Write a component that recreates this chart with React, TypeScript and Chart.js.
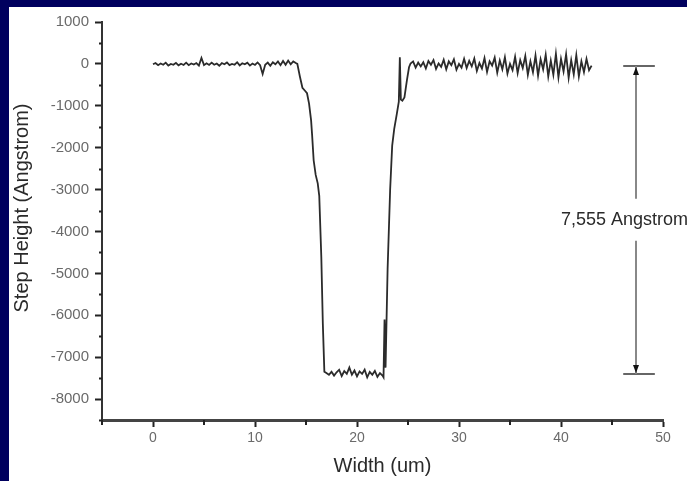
import { useEffect, useRef } from "react";
import { Chart, registerables } from "chart.js";

Chart.register(...registerables);

// Measured profile: x position (um) and step height (Angstrom)
const widthUm = [
  0, 0.25, 0.5, 0.75, 1, 1.25, 1.5, 1.75, 2, 2.25, 2.5, 2.75, 3, 3.25, 3.5, 3.75,
  4, 4.25, 4.5, 4.75, 5, 5.25, 5.5, 5.75, 6, 6.25, 6.5, 6.75, 7, 7.25, 7.5, 7.75,
  8, 8.25, 8.5, 8.75, 9, 9.25, 9.5, 9.75, 10, 10.25, 10.5, 10.75, 11, 11.25, 11.5, 11.75,
  12, 12.25, 12.5, 12.75, 13, 13.25, 13.5, 13.75, 14,
  14.15, 14.4, 14.65, 14.9, 15.1, 15.3, 15.5, 15.6, 15.75, 15.95, 16.15, 16.3, 16.5, 16.65, 16.8,
  17, 17.25, 17.5, 17.75, 18, 18.25, 18.5, 18.75, 19, 19.25, 19.5, 19.75, 20, 20.25, 20.5, 20.75,
  21, 21.25, 21.5, 21.75, 22, 22.25, 22.5,
  22.6, 22.7, 22.8, 23.0, 23.25, 23.45, 23.65, 23.9, 24.1, 24.2, 24.3, 24.45, 24.65, 24.9, 25.1, 25.25,
  25.5, 25.75, 26, 26.25, 26.5, 26.75, 27, 27.25, 27.5, 27.75, 28, 28.25, 28.5, 28.75, 29, 29.25,
  29.5, 29.75, 30, 30.25, 30.5, 30.75, 31, 31.25, 31.5, 31.75, 32, 32.25, 32.5, 32.75, 33, 33.25,
  33.5, 33.75, 34, 34.25, 34.5, 34.75, 35, 35.25, 35.5, 35.75, 36, 36.25, 36.5, 36.75, 37, 37.25,
  37.5, 37.75, 38, 38.25, 38.5, 38.75, 39, 39.25, 39.5, 39.75, 40, 40.25, 40.5, 40.75, 41, 41.25,
  41.5, 41.75, 42, 42.25, 42.5, 42.75, 43,
];

const stepHeight = [
  -10, 20, -30, 10, -20, 30, -40, 0, -20, 25, -35, 5, -25, 30, -30, 10,
  -15, 20, -40, 140, -30, 15, -25, 30, -20, 10, -45, 20, -10, 35, -30, 0,
  -20, 40, -35, 15, -10, 30, -40, 10, -25, 35, -30, -240, -20, 30, -45, 40,
  -10, 60, -30, 70, -20, 80, -10, 60, 20,
  0, -300, -570, -640, -700, -950, -1350, -1700, -2300, -2650, -2850, -3150, -4600, -6200, -7350,
  -7380, -7420, -7350, -7440, -7360, -7300, -7450, -7330, -7400, -7250, -7420, -7320, -7460, -7340, -7400, -7300,
  -7480, -7350, -7420, -7330, -7470, -7380, -7440,
  -7480, -6100, -7250, -4900, -3000, -1950, -1550, -1200, -900, 160, -850, -880, -800, -380, -80, 10,
  60, -90, 30, -60, 40, -110, 70, -20, 90, -120, 10, -70, 100, -130, 60, -30,
  110, -140, 0, -90, 120, -100, 70, -60, 130, -170, 20, -110, 140, -190, 60, -40,
  150, -210, 80, -130, 160, -230, 0, -150, 170, -220, 90, -100, 190, -260, 60, -200,
  200, -280, 110, -130, 220, -300, 80, -260, 240, -320, 120, -180, 230, -330, 90, -250,
  210, -300, 60, -200, 120, -150, -40,
];

const xTickValues = [0, 10, 20, 30, 40, 50];
const xMinorTickValues = [-5, 5, 15, 25, 35, 45];
const yTickValues = [1000, 0, -1000, -2000, -3000, -4000, -5000, -6000, -7000, -8000];
const yMinorTickValues = [500, -500, -1500, -2500, -3500, -4500, -5500, -6500, -7500, -8500];
const xMin = -5;
const xMax = 50;
const yMin = -8500;
const yMax = 1000;

const xTitle = "Width (um)";
const yTitle = "Step Height (Angstrom)";

// Step-height annotation (data units)
const stepLabel = "7,555 Angstrom";
const stepTop = -40;
const stepBottom = -7410;
const arrowX = 47.4;
const barFrom = 46.1;
const barTo = 49.2;
const labelX = 40;
const labelY = -3720;

const FONT = "'Liberation Sans', Arial, Helvetica, sans-serif";

export default function App() {
  const canvasRef = useRef<HTMLCanvasElement | null>(null);

  useEffect(() => {
    document.body.style.background = "#00005e";
    const canvas = canvasRef.current;
    if (!canvas) return;

    const extrasPlugin = {
      id: "extras",
      afterDraw(chart: any) {
        const ctx = chart.ctx as CanvasRenderingContext2D;
        const xs = chart.scales.x;
        const ys = chart.scales.y;
        const area = chart.chartArea;
        ctx.save();

        // minor ticks
        ctx.strokeStyle = "#222";
        ctx.lineWidth = 2;
        ctx.beginPath();
        for (const v of yMinorTickValues) {
          const py = Math.round(ys.getPixelForValue(v)) + 0.5;
          ctx.moveTo(area.left - 3, py);
          ctx.lineTo(area.left, py);
        }
        for (const v of xMinorTickValues) {
          const px = Math.round(xs.getPixelForValue(v));
          ctx.moveTo(px, area.bottom);
          ctx.lineTo(px, area.bottom + 5);
        }
        ctx.stroke();

        // y axis title
        ctx.save();
        ctx.translate(13, (area.top + area.bottom) / 2 - 13);
        ctx.rotate(-Math.PI / 2);
        ctx.font = `20px ${FONT}`;
        ctx.fillStyle = "#2a2a2a";
        ctx.textAlign = "center";
        ctx.textBaseline = "middle";
        ctx.fillText(yTitle, 0, 0);
        ctx.restore();

        // step annotation
        const ax = Math.round(xs.getPixelForValue(arrowX));
        const b1 = xs.getPixelForValue(barFrom);
        const b2 = xs.getPixelForValue(barTo);
        const yt = Math.round(ys.getPixelForValue(stepTop));
        const yb = Math.round(ys.getPixelForValue(stepBottom));
        const ty = ys.getPixelForValue(labelY);

        ctx.strokeStyle = "#666";
        ctx.lineWidth = 2;
        ctx.beginPath();
        ctx.moveTo(b1, yt);
        ctx.lineTo(b2, yt);
        ctx.moveTo(b1, yb);
        ctx.lineTo(b2, yb);
        ctx.stroke();

        ctx.strokeStyle = "#888";
        ctx.beginPath();
        ctx.moveTo(ax, yt);
        ctx.lineTo(ax, ty - 21);
        ctx.moveTo(ax, ty + 21);
        ctx.lineTo(ax, yb);
        ctx.stroke();

        ctx.fillStyle = "#111";
        ctx.beginPath();
        ctx.moveTo(ax, yt + 1);
        ctx.lineTo(ax - 3, yt + 9);
        ctx.lineTo(ax + 3, yt + 9);
        ctx.closePath();
        ctx.moveTo(ax, yb - 1);
        ctx.lineTo(ax - 3, yb - 9);
        ctx.lineTo(ax + 3, yb - 9);
        ctx.closePath();
        ctx.fill();

        ctx.font = `18px ${FONT}`;
        ctx.fillStyle = "#2a2a2a";
        ctx.textAlign = "left";
        ctx.textBaseline = "middle";
        ctx.fillText(stepLabel, xs.getPixelForValue(labelX), ty);

        ctx.restore();
      },
    };

    const chart = new Chart(canvas, {
      type: "line",
      data: {
        datasets: [
          {
            data: widthUm.map((x, i) => ({ x, y: stepHeight[i] })),
            borderColor: "#2b2b2b",
            borderWidth: 1.8,
            pointRadius: 0,
            tension: 0,
            fill: false,
          },
        ],
      },
      options: {
        animation: false,
        responsive: false,
        devicePixelRatio: 1,
        layout: { padding: { left: 0, top: 12, right: 24, bottom: 0 } },
        plugins: {
          legend: { display: false },
          tooltip: { enabled: false },
        },
        scales: {
          x: {
            type: "linear",
            min: xMin,
            max: xMax,
            afterBuildTicks: (s: any) => {
              s.ticks = xTickValues.map((value) => ({ value }));
            },
            afterFit: (s: any) => {
              s.height = 61;
            },
            grid: {
              drawOnChartArea: false,
              drawTicks: true,
              tickLength: 7,
              tickWidth: 2,
              tickColor: "#222",
            },
            border: { display: true, color: "#444", width: 3 },
            ticks: {
              padding: 3,
              color: "#6a6a6a",
              font: { family: FONT, size: 14 },
              maxRotation: 0,
              callback: (v: any) => String(v),
            },
            title: {
              display: true,
              text: xTitle,
              color: "#2a2a2a",
              font: { family: FONT, size: 20 },
              padding: { top: 0, bottom: 3 },
            },
          },
          y: {
            type: "linear",
            min: yMin,
            max: yMax,
            afterBuildTicks: (s: any) => {
              s.ticks = yTickValues.map((value) => ({ value }));
            },
            afterFit: (s: any) => {
              s.width = 93;
            },
            grid: {
              drawOnChartArea: false,
              drawTicks: true,
              tickLength: 7,
              tickWidth: 2,
              tickColor: "#222",
            },
            border: { display: true, color: "#333", width: 2 },
            ticks: {
              padding: 6,
              color: "#6a6a6a",
              font: { family: FONT, size: 15 },
              callback: (v: any) => String(v),
            },
          },
        },
      },
      plugins: [extrasPlugin],
    });

    return () => {
      chart.destroy();
    };
  }, []);

  return (
    <div
      style={{
        position: "absolute",
        left: 9,
        top: 7,
        width: 678,
        height: 474,
        background: "#ffffff",
        overflow: "hidden",
      }}
    >
      <canvas ref={canvasRef} width={678} height={474} style={{ display: "block" }} />
    </div>
  );
}
